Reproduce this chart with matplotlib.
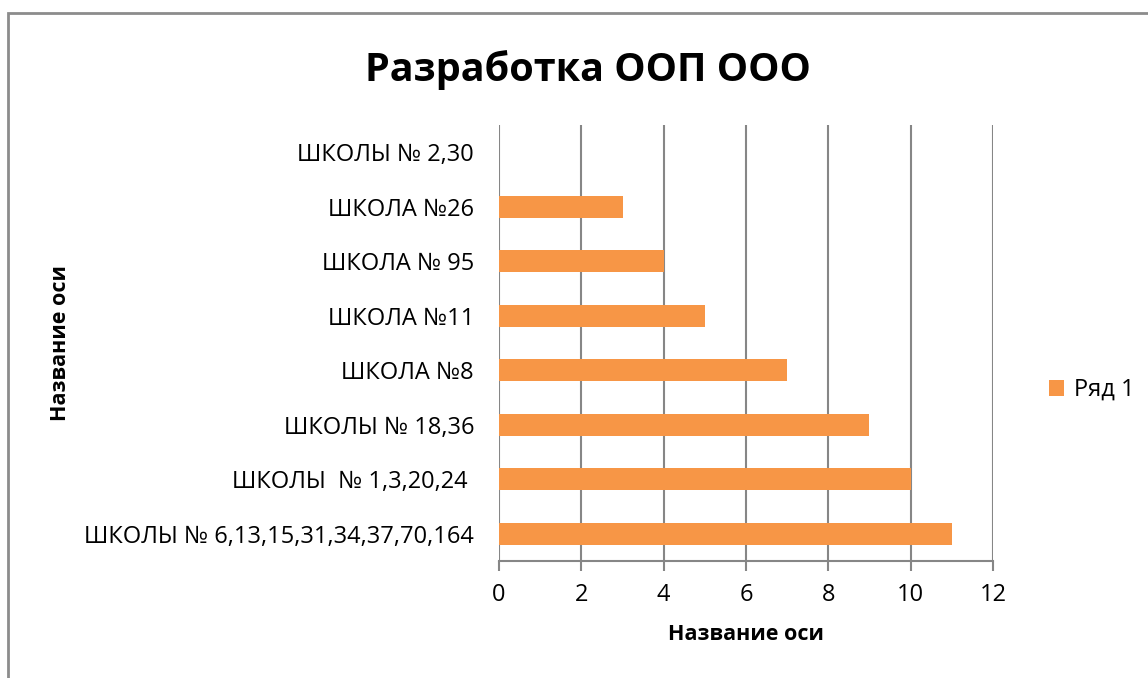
import matplotlib
matplotlib.use('Agg')
from matplotlib import pyplot as plt
import matplotlib.patches as patches

plt.rcParams['font.family'] = ['Open Sans', 'DejaVu Sans']

# данные (снизу вверх, как в Excel)
schools = ['ШКОЛЫ № 6,13,15,31,34,37,70,164', 'ШКОЛЫ  № 1,3,20,24 ', 'ШКОЛЫ № 18,36',
           'ШКОЛА №8', 'ШКОЛА №11', 'ШКОЛА № 95', 'ШКОЛА №26', 'ШКОЛЫ № 2,30']
values = [11, 10, 9, 7, 5, 4, 3, 0]
x_ticks = [0, 2, 4, 6, 8, 10, 12]
series_name = 'Ряд 1'

bar_color = '#F79646'
grid_color = '#868686'

fig = plt.figure(figsize=(11.48, 6.78), dpi=100)
ax = fig.add_axes([499 / 1148, 1 - 561 / 678, (993 - 499) / 1148, (561 - 125) / 678])

ax.barh(range(len(schools)), values, height=0.4, color=bar_color, label=series_name, zorder=3)

ax.set_xlim(0, 12)
ax.set_ylim(-0.5, len(schools) - 0.5)
ax.set_xticks(x_ticks)
ax.set_yticks(range(len(schools)))
ax.set_yticklabels(schools)

# сетка и оси
ax.grid(axis='x', color=grid_color, linewidth=1.5)
for s in ['top', 'right', 'left']:
    ax.spines[s].set_visible(False)
ax.spines['bottom'].set_color(grid_color)
ax.spines['bottom'].set_linewidth(1.5)
ax.tick_params(axis='y', length=0, pad=18, labelsize=17)
ax.tick_params(axis='x', length=7, width=1.5, color=grid_color, pad=9, labelsize=17)

# подписи
fig.text(588 / 1148, 1 - 70 / 678, 'Разработка ООП ООО', ha='center', va='center',
         fontsize=28.5, fontweight='bold')
fig.text(746 / 1148, 1 - 634 / 678, 'Название оси', ha='center', va='center',
         fontsize=15.5, fontweight='bold')
fig.text(60 / 1148, 1 - 343 / 678, 'Название оси', ha='center', va='center',
         fontsize=15.5, fontweight='bold', rotation=90)

ax.legend(loc='center left', bbox_to_anchor=(1049 / 1148, 1 - 390 / 678),
          bbox_transform=fig.transFigure, frameon=False, fontsize=17,
          handlelength=0.65, handleheight=0.65, handletextpad=0.4, borderaxespad=0,
          borderpad=0)

# рамка диаграммы
fig.patches.append(patches.Rectangle((8 / 1148, -0.1), 1.2, 1 - 13 / 678 + 0.1,
                                     transform=fig.transFigure, fill=False,
                                     edgecolor='#8C8C8C', linewidth=2))

fig.savefig('out.png', dpi=100)
